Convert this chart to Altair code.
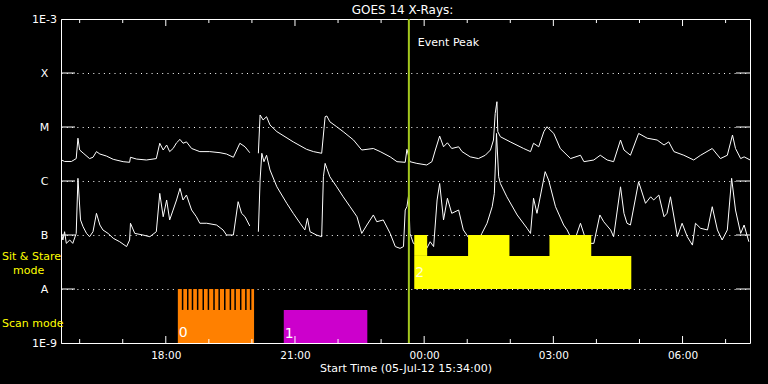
import altair as alt
import pandas as pd

# ---------------- data (times: decimal hours since 2012-07-05 00:00) ----------------
long_t = [15.58, 15.65, 15.81, 15.92, 15.96, 16.00, 16.08, 16.23, 16.31, 16.39,
          16.47, 16.62, 16.78, 17.01, 17.16, 17.18, 17.32, 17.55, 17.78, 17.86,
          17.94, 18.02, 18.09, 18.17, 18.25, 18.33, 18.40, 18.48, 18.60, 18.79,
          19.02, 19.26, 19.41, 19.57, 19.72, 19.84, 19.95, 20.15, 20.19, 20.26,
          20.34, 20.42, 20.58, 20.96, 21.27, 21.43, 21.62, 21.70, 21.74, 21.81,
          21.97, 22.12, 22.36, 22.55, 22.82, 22.98, 23.21, 23.37, 23.56, 23.60,
          23.67, 23.83, 24.06, 24.18, 24.26, 24.36, 24.45, 24.54, 24.64, 24.80,
          24.88, 25.07, 25.26, 25.42, 25.54, 25.61, 25.65, 25.69, 25.71, 25.77,
          26.00, 26.31, 26.47, 26.54, 26.66, 26.78, 26.85, 27.01, 27.16, 27.40,
          27.63, 27.71, 27.94, 28.09, 28.25, 28.40, 28.56, 28.64, 28.79, 28.98,
          29.18, 29.41, 29.57, 29.68, 29.80, 30.03, 30.26, 30.42, 30.69, 30.88,
          31.04, 31.16, 31.23, 31.35, 31.43, 31.57]
long_flux = [2.45e-6, 2.3e-6, 2.3e-6, 2.6e-6, 6.2e-6, 3.75e-6, 3.3e-6, 2.6e-6, 2.75e-6, 3.5e-6,
             3.16e-6, 2.9e-6, 2.52e-6, 2.28e-6, 2.22e-6, 2.75e-6, 2.55e-6, 2.45e-6, 2.6e-6, 5.0e-6,
             3.75e-6, 4.64e-6, 3.5e-6, 4.0e-6, 5.1e-6, 5.9e-6, 5.0e-6, 5.3e-6, 4.0e-6, 3.5e-6,
             3.5e-6, 3.34e-6, 3.16e-6, 2.75e-6, 5.0e-6, 4.3e-6, 3.34e-6, 3.26e-6, 1.67e-5, 1.35e-5,
             1.55e-5, 1.09e-5, 8.2e-6, 5.3e-6, 3.86e-6, 3.5e-6, 3.26e-6, 1.55e-5, 1.6e-5, 1.25e-5,
             1.01e-5, 8.2e-6, 5.74e-6, 3.75e-6, 4.0e-6, 3.5e-6, 2.8e-6, 2.28e-6, 2.22e-6, 3.86e-6,
             2.28e-6, 2.12e-6, 1.98e-6, 2.28e-6, 3.75e-6, 6.8e-6, 4.3e-6, 5.1e-6, 4.0e-6, 4.3e-6,
             3.5e-6, 2.8e-6, 2.6e-6, 3.0e-6, 3.75e-6, 5.74e-6, 1.79e-5, 2.94e-5, 8.2e-6, 6.6e-6,
             5.3e-6, 4.0e-6, 3.5e-6, 5.0e-6, 4.3e-6, 8.2e-6, 1.01e-5, 7.6e-6, 4.0e-6, 2.6e-6,
             3.0e-6, 2.28e-6, 2.45e-6, 3.0e-6, 2.45e-6, 2.28e-6, 5.74e-6, 3.75e-6, 3.0e-6, 7.6e-6,
             6.2e-6, 5.74e-6, 4.64e-6, 5.3e-6, 3.5e-6, 3.0e-6, 2.45e-6, 3.0e-6, 4.0e-6, 2.6e-6,
             3.0e-6, 7.1e-6, 4.0e-6, 2.6e-6, 2.8e-6, 2.45e-6]

short_t = [15.58, 15.61, 15.65, 15.69, 15.77, 15.84, 15.92, 15.96, 16.02, 16.08,
           16.16, 16.23, 16.31, 16.39, 16.47, 16.54, 16.66, 16.78, 16.93, 17.09,
           17.16, 17.18, 17.28, 17.47, 17.63, 17.78, 17.86, 17.94, 18.02, 18.09,
           18.17, 18.25, 18.33, 18.40, 18.48, 18.60, 18.71, 18.79, 18.95, 19.18,
           19.33, 19.41, 19.57, 19.68, 19.76, 19.84, 19.95, 20.15, 20.19, 20.23,
           20.28, 20.34, 20.42, 20.58, 20.81, 20.96, 21.12, 21.23, 21.29, 21.35,
           21.50, 21.62, 21.66, 21.70, 21.74, 21.81, 21.97, 22.12, 22.28, 22.44,
           22.55, 22.67, 22.82, 22.90, 23.05, 23.21, 23.33, 23.44, 23.52, 23.56,
           23.60, 23.64, 23.67, 23.75, 23.91, 24.06, 24.14, 24.22, 24.30, 24.36,
           24.45, 24.54, 24.64, 24.80, 24.91, 25.07, 25.23, 25.34, 25.46, 25.58,
           25.63, 25.68, 25.73, 25.77, 25.92, 26.16, 26.39, 26.47, 26.54, 26.62,
           26.81, 26.89, 27.05, 27.24, 27.32, 27.47, 27.63, 27.78, 27.94, 28.08,
           28.17, 28.33, 28.40, 28.56, 28.64, 28.71, 28.79, 28.98, 29.14, 29.26,
           29.33, 29.45, 29.57, 29.64, 29.72, 29.88, 29.99, 30.11, 30.23, 30.30,
           30.42, 30.58, 30.69, 30.81, 30.92, 31.04, 31.14, 31.23, 31.35, 31.43,
           31.54]
short_flux = [1.07e-7, 8.07e-8, 1.15e-7, 7.0e-8, 8.07e-8, 7.0e-8, 1.07e-7, 1.12e-6, 1.9e-7, 1.42e-7,
              1.07e-7, 9.3e-8, 1.15e-7, 2.52e-7, 1.53e-7, 1.24e-7, 1.07e-7, 8.7e-8, 7.5e-8, 6.1e-8,
              8.07e-8, 1.65e-7, 1.07e-7, 1.0e-7, 9.3e-8, 1.15e-7, 5.9e-7, 2.18e-7, 4.45e-7, 1.9e-7,
              2.9e-7, 4.45e-7, 7.3e-7, 4.45e-7, 5.5e-7, 2.9e-7, 2.18e-7, 1.65e-7, 1.65e-7, 1.53e-7,
              1.24e-7, 1.0e-7, 1.0e-7, 4.14e-7, 2.52e-7, 2.18e-7, 1.47e-7, 1.15e-7, 1.04e-6, 3.26e-6,
              2.28e-6, 3.0e-6, 1.6e-6, 7.8e-7, 3.86e-7, 2.52e-7, 1.65e-7, 1.24e-7, 2.04e-7, 1.15e-7,
              1.0e-7, 9.3e-8, 1.2e-6, 2.12e-6, 1.72e-6, 1.2e-6, 7.8e-7, 5.1e-7, 3.34e-7, 2.18e-7,
              1.07e-7, 1.53e-7, 2.35e-7, 1.76e-7, 1.9e-7, 1.07e-7, 6.1e-8, 5.66e-8, 6.1e-8, 2.9e-7,
              3.34e-7, 5.5e-7, 1.07e-7, 7.0e-8, 6.1e-8, 5.66e-8, 7.5e-8, 6.1e-8, 4.45e-7, 9.0e-7,
              1.9e-7, 4.8e-7, 2.52e-7, 2.9e-7, 1.24e-7, 8.07e-8, 7.0e-8, 1.07e-7, 1.65e-7, 3.34e-7,
              5.9e-7, 7.6e-6, 1.2e-6, 9.0e-7, 5.1e-7, 2.35e-7, 1.33e-7, 1.07e-7, 4.8e-7, 2.52e-7,
              1.49e-6, 1.04e-6, 3.34e-7, 1.53e-7, 1.24e-7, 7.0e-8, 1.65e-7, 7.0e-8, 7.0e-8, 2.35e-7,
              1.76e-7, 1.24e-7, 9.3e-8, 7.8e-7, 2.52e-7, 1.65e-7, 1.53e-7, 9.7e-7, 3.86e-7, 5.1e-7,
              4.45e-7, 5.5e-7, 2.18e-7, 2.52e-7, 5.1e-7, 9.3e-8, 1.65e-7, 9.3e-8, 6.5e-8, 1.65e-7,
              1.33e-7, 1.24e-7, 3.34e-7, 1.24e-7, 8.07e-8, 1.24e-7, 1.12e-6, 2.9e-7, 1.07e-7, 1.53e-7,
              7.5e-8]

data_gap = [19.96, 20.14]          # no data between these times

y_levels = [1e-9, 1e-8, 1e-7, 1e-6, 1e-5, 1e-4, 1e-3]
y_names = ["1E-9", "A", "B", "C", "M", "X", "1E-3"]
grid_levels = [1e-8, 1e-7, 1e-6, 1e-5, 1e-4]

major_ticks = [18, 21, 24, 27, 30]
minor_ticks = [16, 17, 19, 20, 22, 23, 25, 26, 28, 29, 31]

chart_title = "GOES 14 X-Rays:"
event_peak = 23.645

# mode blocks: start, end, low, high
scan0 = [18.28, 20.05, 1e-9, 1e-8]
scan0_gaps = [18.39, 18.51, 18.62, 18.74, 18.87, 18.99, 19.12, 19.24,
              19.37, 19.50, 19.61, 19.74, 19.86, 19.97]
scan0_gap_range = [4.1e-9, 1e-8]
scan1 = [20.74, 22.68, 1e-9, 4.1e-9]
stare_start = [23.77, 23.77, 25.02, 26.91]
stare_end = [28.81, 24.07, 25.98, 27.88]
stare_lo = [1e-8, 4.1e-8, 4.1e-8, 4.1e-8]
stare_hi = [4.1e-8, 1e-7, 1e-7, 1e-7]

# ---------------- helpers ----------------
BASE = pd.Timestamp("2012-07-05 00:00:00")


def ts(h):
    return (BASE + pd.Timedelta(hours=h)).strftime("%Y-%m-%dT%H:%M:%S")


def dt(h):
    t = BASE + pd.Timedelta(hours=h)
    return alt.DateTime(year=t.year, month=t.month, date=t.day, hours=t.hour, minutes=t.minute)


W, H = 689, 324
FONT = "DejaVu Sans"

rows = []
for name, tt, ff in [("long", long_t, long_flux), ("short", short_t, short_flux)]:
    for h, f in zip(tt, ff):
        seg = 0 if h < data_gap[0] else 1
        rows.append({"time": ts(h), "flux": f, "grp": f"{name}{seg}"})
lines_df = pd.DataFrame(rows)

x_scale = alt.Scale(domain=[dt(15 + 34 / 60), dt(31 + 34 / 60)])
y_scale = alt.Scale(type="log", domain=[1e-9, 1e-3], nice=False)

label_expr = "[" + ",".join(f"'{n}'" for n in y_names) + "][round(log(datum.value)/LN10)+9]"

X_AX = alt.Axis(values=[dt(h) for h in major_ticks], format="%H:%M",
                ticks=False, grid=False, domain=False,
                labelColor="white", labelFont=FONT, labelFontSize=10.5,
                labelPadding=7, labelFlush=False,
                title="Start Time (05-Jul-12 15:34:00)", titleColor="white",
                titleFont=FONT, titleFontSize=11, titleFontWeight="normal",
                titlePadding=2)
Y_AX = alt.Axis(values=y_levels, labelExpr=label_expr, ticks=False, domain=False,
                grid=True, gridColor="white", gridDash=[1, 4.3], gridWidth=1,
                labelColor="white", labelFont=FONT, labelFontSize=11,
                labelAlign="center", labelBaseline="middle", labelPadding=17,
                labelOverlap=False, title=None)


def xf(field):
    return alt.X(field, scale=x_scale, axis=X_AX, title="Start Time (05-Jul-12 15:34:00)")


def yf(field):
    return alt.Y(field, scale=y_scale, axis=Y_AX, title=None)


lines = alt.Chart(lines_df).mark_line(color="white", strokeWidth=1, clip=True).encode(
    x=xf("time:T"), y=yf("flux:Q"), detail="grp:N")

# ticks drawn inward
maj_df = pd.DataFrame({"time": [ts(h) for h in major_ticks]})
min_df = pd.DataFrame({"time": [ts(h) for h in minor_ticks]})
tick_layers = [
    alt.Chart(maj_df).mark_rule(color="white").encode(x=xf("time:T"), y=alt.value(H), y2=alt.value(H - 7)),
    alt.Chart(maj_df).mark_rule(color="white").encode(x=xf("time:T"), y=alt.value(0), y2=alt.value(7)),
    alt.Chart(min_df).mark_rule(color="white").encode(x=xf("time:T"), y=alt.value(H), y2=alt.value(H - 4)),
    alt.Chart(min_df).mark_rule(color="white").encode(x=xf("time:T"), y=alt.value(0), y2=alt.value(4)),
]
lev_df = pd.DataFrame({"flux": grid_levels})
tick_layers += [
    alt.Chart(lev_df).mark_rule(color="white").encode(y=yf("flux:Q"), x=alt.value(0), x2=alt.value(14)),
    alt.Chart(lev_df).mark_rule(color="white").encode(y=yf("flux:Q"), x=alt.value(W - 14), x2=alt.value(W)),
]


# mode blocks
def block_df(starts, ends, los, his):
    return pd.DataFrame({"s": [ts(h) for h in starts], "e": [ts(h) for h in ends],
                         "lo": los, "hi": his})


def rect(df, color):
    return alt.Chart(df).mark_rect(color=color).encode(
        x=xf("s:T"), x2="e:T", y=yf("lo:Q"), y2="hi:Q")


orange = rect(block_df([scan0[0]], [scan0[1]], [scan0[2]], [scan0[3]]), "#FF8000")
gaps_df = pd.DataFrame({"time": [ts(h) for h in scan0_gaps],
                        "lo": scan0_gap_range[0], "hi": scan0_gap_range[1]})
orange_gaps = alt.Chart(gaps_df).mark_rule(color="black", strokeWidth=1.5).encode(
    x=xf("time:T"), y=yf("lo:Q"), y2="hi:Q")
magenta = rect(block_df([scan1[0]], [scan1[1]], [scan1[2]], [scan1[3]]), "#CC00CC")
yellow = rect(block_df(stare_start, stare_end, stare_lo, stare_hi), "#FFFF00")

# event peak
peak_df = pd.DataFrame({"time": [ts(event_peak)], "flux": [3.6e-4], "label": ["Event Peak"]})
peak_rule = alt.Chart(peak_df).mark_rule(color="#A4C81E", strokeWidth=2).encode(x=xf("time:T"))
peak_text = alt.Chart(peak_df).mark_text(
    color="white", font=FONT, fontSize=11, align="left", baseline="middle", dx=9
).encode(x=xf("time:T"), y=yf("flux:Q"), text="label:N")

# mode numbers
num_df = pd.DataFrame({"time": [ts(scan0[0]), ts(scan1[0]), ts(stare_start[0])],
                       "flux": [1.5e-9, 1.45e-9, 2.0e-8],
                       "label": ["0", "1", "2"],
                       "col": ["white", "white", "#FFFFD0"]})
num_text = alt.Chart(num_df).mark_text(
    font=FONT, fontSize=14, align="left", baseline="middle", dx=1
).encode(x=xf("time:T"), y=yf("flux:Q"), text="label:N", color=alt.Color("col:N", scale=None))

# side labels (left margin)
side_a = pd.DataFrame({"label": ["Sit & Stare", "Scan mode"], "flux": [3.84e-8, 2.25e-9]})
side_b = pd.DataFrame({"label": ["mode"], "flux": [2.11e-8]})
side_text_a = alt.Chart(side_a).mark_text(
    color="#FFFF00", font=FONT, fontSize=11, align="left", baseline="middle"
).encode(x=alt.value(-59), y=yf("flux:Q"), text="label:N")
side_text_b = alt.Chart(side_b).mark_text(
    color="#FFFF00", font=FONT, fontSize=11, align="left", baseline="middle"
).encode(x=alt.value(-48), y=yf("flux:Q"), text="label:N")

# chart title as a text mark above the frame
title_df = pd.DataFrame({"label": [chart_title]})
title_text = alt.Chart(title_df).mark_text(
    color="white", font=FONT, fontSize=12, align="center", baseline="middle"
).encode(x=alt.value(W / 2 - 3), y=alt.value(-9), text="label:N")

chart = alt.layer(
    lines, orange, orange_gaps, magenta, yellow, peak_rule, peak_text, num_text,
    side_text_a, side_text_b, title_text, *tick_layers
).properties(
    width=W, height=H,
    autosize=alt.AutoSizeParams(type="none"),
    padding={"left": 61, "top": 19, "right": 18, "bottom": 41},
).configure(background="black").configure_view(stroke="white", strokeWidth=1)

chart.save("out.html", embed_options={"renderer": "svg", "actions": False})
